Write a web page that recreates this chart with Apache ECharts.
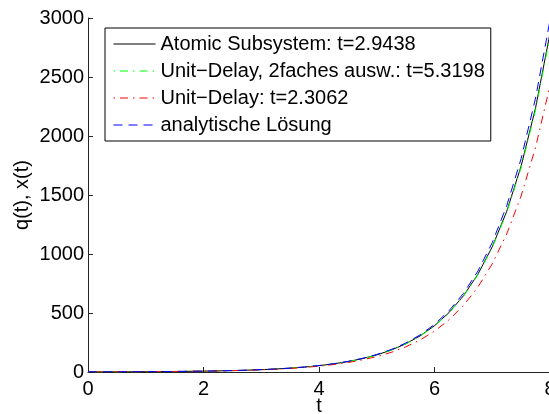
<!DOCTYPE html>
<html>
<head>
<meta charset="utf-8">
<script src="https://cdn.jsdelivr.net/npm/echarts@6/dist/echarts.min.js"></script>
<style>
html,body{margin:0;padding:0;background:#fff;}
#c{width:549px;height:414px;}
</style>
</head>
<body>
<div id="c"></div>
<script>
const tValues = [0,0.25,0.5,0.75,1,1.25,1.5,1.75,2,2.25,2.5,2.75,3,3.25,3.5,3.75,4,4.25,4.5,4.75,5,5.25,5.5,5.75,6,6.25,6.5,6.75,7,7.25,7.5,7.75,8];
const atomicSubsystem = [1,1.28,1.64,2.11,2.71,3.47,4.45,5.71,7.32,9.39,12.04,15.44,19.81,25.41,32.58,41.78,53.6,68.7,88.1,113.0,145.0,185.9,238.4,305.8,392.2,503.0,645.1,827.4,1061,1361,1745,2239,2871];
const unitDelay2fach = [1,1.28,1.64,2.11,2.71,3.47,4.45,5.70,7.30,9.37,12.01,15.40,19.75,25.33,32.47,41.62,53.4,68.4,87.7,112.4,144.2,185.0,237.1,304.0,390.0,500.0,641.0,821.8,1054,1351,1732,2221,2848];
const unitDelay = [1,1.276,1.628,2.077,2.649,3.380,4.313,5.503,7.020,8.957,11.43,14.58,18.60,23.73,30.28,38.63,49.29,62.88,80.22,102.4,130.6,166.6,212.6,271.2,346.0,441.4,563.1,718.5,916.7,1169.6,1492.1,1903.7,2428.6];
const analytisch = [1,1.284,1.649,2.117,2.718,3.490,4.482,5.755,7.389,9.488,12.18,15.64,20.09,25.79,33.12,42.52,54.60,70.11,90.02,115.6,148.4,190.6,244.7,314.2,403.4,518.0,665.1,854.1,1096.6,1408.1,1808.0,2321.6,2981.0];
const seriesNames = ['Atomic Subsystem: t=2.9438','Unit\u2212Delay, 2faches ausw.: t=5.3198','Unit\u2212Delay: t=2.3062','analytische L\u00f6sung'];
const xTicks = [0,2,4,6,8];
const yTicks = [0,500,1000,1500,2000,2500,3000];

const FONT = '"Liberation Sans", Arial, Helvetica, sans-serif';
const chart = echarts.init(document.getElementById('c'), null, {renderer:'canvas'});
const toPts = arr => tValues.map((t,i)=>[t, arr[i]]);
const styles = [
  {color:'#000000', type:'solid'},
  {color:'#00ff00', type:[1.5,5,8,5]},
  {color:'#ff0000', type:[1.5,5,8,5]},
  {color:'#0000ff', type:[9,6]}
];
const dataSets = [atomicSubsystem, unitDelay2fach, unitDelay, analytisch];
const axisCol = '#262626';
chart.setOption({
  animation:false,
  backgroundColor:'#fff',
  grid:{left:88, top:18, width:462, height:354, containLabel:false, outerBoundsMode:'none'},
  xAxis:{
    type:'value', min:xTicks[0], max:xTicks[xTicks.length-1], interval:2,
    name:'t', nameLocation:'middle', nameGap:24, nameMoveOverlap:false,
    nameTextStyle:{fontSize:20, fontFamily:FONT, color:'#000'},
    axisLine:{show:true, onZero:false, lineStyle:{color:axisCol, width:1}},
    axisTick:{show:true, inside:true, length:5, lineStyle:{color:axisCol}},
    axisLabel:{fontSize:20, fontFamily:FONT, color:'#000', margin:7, hideOverlap:false},
    splitLine:{show:false}
  },
  yAxis:{
    type:'value', min:yTicks[0], max:yTicks[yTicks.length-1], interval:500,
    name:'q(t), x(t)', nameLocation:'middle', nameGap:56, nameMoveOverlap:false,
    nameTextStyle:{fontSize:20, fontFamily:FONT, color:'#000'},
    axisLine:{show:true, onZero:false, lineStyle:{color:axisCol, width:1}},
    axisTick:{show:true, inside:true, length:5, lineStyle:{color:axisCol}},
    axisLabel:{fontSize:20, fontFamily:FONT, color:'#000', margin:4, formatter: v => String(v)},
    splitLine:{show:false}
  },
  legend:{
    orient:'vertical', left:105, top:28,
    padding:[6,6,6,8],
    itemWidth:42, itemHeight:12, itemGap:7,
    borderColor:'#000', borderWidth:1, backgroundColor:'#fff',
    itemStyle:{opacity:0},
    lineStyle:{width:1},
    textStyle:{fontSize:20, fontFamily:FONT, color:'#000', lineHeight:20},
    data:seriesNames
  },
  series: dataSets.map((d,i)=>({
    name:seriesNames[i], type:'line', data:toPts(d), symbol:'none', smooth:false,
    lineStyle:{color:styles[i].color, width:1, type:styles[i].type},
    itemStyle:{color:styles[i].color},
    clip:true
  }))
});
</script>
</body>
</html>
